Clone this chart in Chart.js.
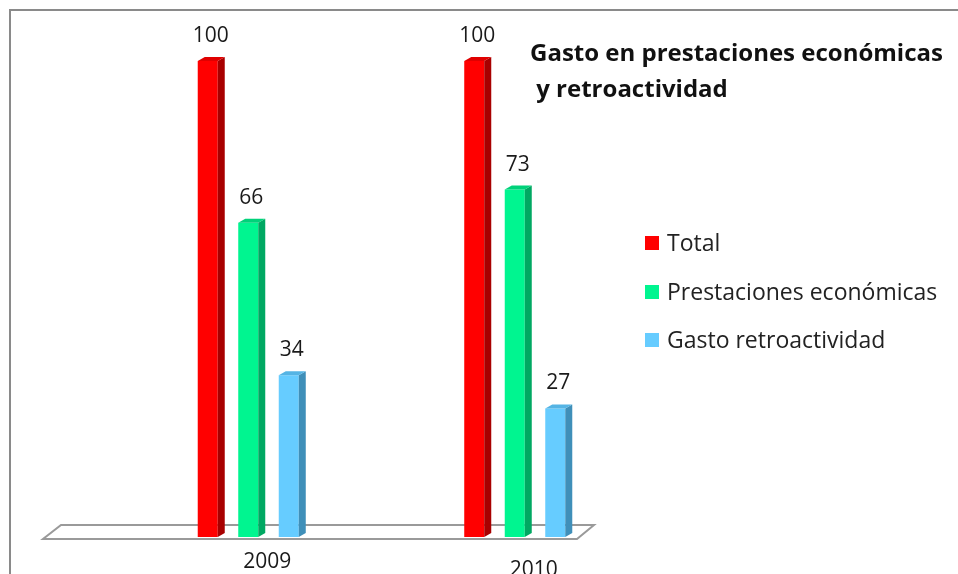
<!DOCTYPE html>
<html>
<head>
<meta charset="utf-8">
<script src="https://cdn.jsdelivr.net/npm/chart.js@4.4.1/dist/chart.umd.min.js"></script>
<style>
  html, body { margin: 0; padding: 0; background: #ffffff; }
  #wrap { width: 958px; height: 574px; }
</style>
</head>
<body>
<div id="wrap"><canvas id="gastoChart" width="958" height="574"></canvas></div>
<script>
// Datos del gráfico
const years = ["2009", "2010"];
const totalData = [100, 100];
const prestacionesData = [66, 73];
const retroData = [34, 27];
const seriesNames = ["Total", "Prestaciones económicas", "Gasto retroactividad"];
const titleLines = ["Gasto en prestaciones económicas", " y retroactividad"];

const frontColors = ["#ff0000", "#00f590", "#66ccff"];
const sideColors = ["#a80000", "#00a862", "#3f8fb9"];
const topColors = ["#e00000", "#00d27a", "#55b4e4"];

const DEPTH_X = 7, DEPTH_Y = 4;
const FONT = "'Open Sans', 'Noto Sans', sans-serif";

// borde del gráfico + suelo 3D
const backgroundPlugin = {
    id: "background3d",
    beforeDatasetsDraw(chart) {
        const ctx = chart.ctx;
        const area = chart.chartArea;
        ctx.save();
        ctx.strokeStyle = "#8a8a8a";
        ctx.lineWidth = 2;
        ctx.strokeRect(10, 10, 1000, 1000);

        // suelo
        const yTop = area.bottom - 12, yBot = area.bottom + 2;
        const xl = area.left - 72, xr = area.right - 54;
        ctx.beginPath();
        ctx.moveTo(xl + 18, yTop);
        ctx.lineTo(xr, yTop);
        ctx.lineTo(xr - 17, yBot);
        ctx.lineTo(xl, yBot);
        ctx.closePath();
        ctx.fillStyle = "#ffffff";
        ctx.fill();
        ctx.strokeStyle = "#9a9a9a";
        ctx.lineWidth = 2;
        ctx.stroke();
        ctx.restore();
    }
};

// caras laterales, etiquetas, título y leyenda
const bars3dPlugin = {
    id: "bars3d",
    afterDatasetsDraw(chart) {
        const ctx = chart.ctx;
        ctx.save();
        chart.data.datasets.forEach((ds, di) => {
            const meta = chart.getDatasetMeta(di);
            meta.data.forEach((bar, i) => {
                const p = bar.getProps(["x", "y", "base", "width"], true);
                const l = p.x - p.width / 2, r = p.x + p.width / 2;
                // lateral
                ctx.fillStyle = sideColors[di];
                ctx.beginPath();
                ctx.moveTo(r, p.y);
                ctx.lineTo(r + DEPTH_X, p.y - DEPTH_Y);
                ctx.lineTo(r + DEPTH_X, p.base - DEPTH_Y);
                ctx.lineTo(r, p.base);
                ctx.closePath();
                ctx.fill();
                // tapa
                ctx.fillStyle = topColors[di];
                ctx.beginPath();
                ctx.moveTo(l, p.y);
                ctx.lineTo(l + DEPTH_X, p.y - DEPTH_Y);
                ctx.lineTo(r + DEPTH_X, p.y - DEPTH_Y);
                ctx.lineTo(r, p.y);
                ctx.closePath();
                ctx.fill();
                // valor
                ctx.fillStyle = "#1a1a1a";
                ctx.font = "21px " + FONT;
                ctx.textAlign = "center";
                ctx.textBaseline = "alphabetic";
                ctx.fillText(String(ds.data[i]), p.x + 3, p.y - 19);
            });
        });

        // años
        const xScale = chart.scales.x;
        ctx.font = "21px " + FONT;
        ctx.fillStyle = "#1a1a1a";
        ctx.textAlign = "center";
        years.forEach((y, i) => {
            ctx.fillText(y, xScale.getPixelForValue(i) + 19, 568 + i * 8);
        });

        // título
        ctx.font = "bold 24px " + FONT;
        ctx.textAlign = "left";
        ctx.fillStyle = "#111111";
        ctx.fillText(titleLines[0], 530, 61);
        ctx.fillText(titleLines[1], 530, 97);

        // leyenda
        ctx.font = "23px " + FONT;
        const legendY = [243, 292, 340];
        seriesNames.forEach((name, k) => {
            ctx.fillStyle = frontColors[k];
            ctx.fillRect(645, legendY[k] - 7, 14, 14);
            ctx.fillStyle = "#222222";
            ctx.fillText(name, 667, legendY[k] + 8);
        });
        ctx.restore();
    }
};

new Chart(document.getElementById("gastoChart"), {
    type: "bar",
    data: {
        labels: years,
        datasets: [
            { label: seriesNames[0], data: totalData, backgroundColor: frontColors[0] },
            { label: seriesNames[1], data: prestacionesData, backgroundColor: frontColors[1] },
            { label: seriesNames[2], data: retroData, backgroundColor: frontColors[2] }
        ]
    },
    options: {
        responsive: false,
        animation: false,
        layout: { padding: { left: 115, right: 310, top: 61, bottom: 37 } },
        datasets: { bar: { categoryPercentage: 0.456, barPercentage: 0.494 } },
        plugins: { legend: { display: false }, tooltip: { enabled: false } },
        scales: {
            x: { display: false },
            y: { display: false, min: 0, max: 100 }
        }
    },
    plugins: [backgroundPlugin, bars3dPlugin]
});
</script>
</body>
</html>
